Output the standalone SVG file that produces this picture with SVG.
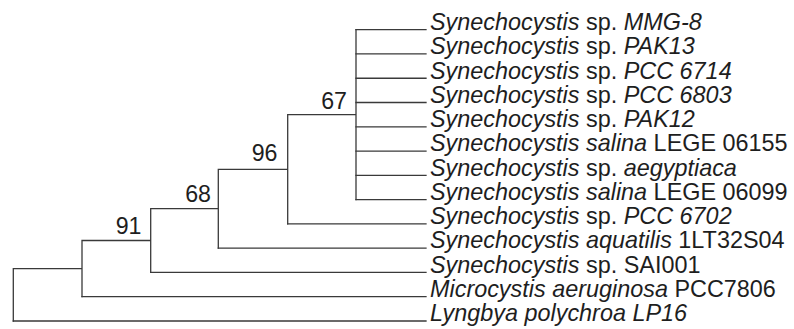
<svg xmlns="http://www.w3.org/2000/svg" width="794" height="329" viewBox="0 0 794 329">
<style>
.e{fill:none;stroke:#3a3a3a;stroke-width:1.3;stroke-linecap:square}
.t{font-family:"Liberation Sans",Arial,sans-serif;font-size:23.4px;fill:#1e1e1e}
.b{font-family:"Liberation Sans",Arial,sans-serif;font-size:23.2px;fill:#1e1e1e;text-anchor:end}
.i{font-style:italic}
</style>
<rect width="794" height="329" fill="#ffffff"/>
<g id="connectors">
<path class="e" d="M356,29.7V199.6 M287.7,114.65H356 M287.7,114.65V223.9 M218.3,169.3H287.7 M218.3,169.3V248.1 M150.7,208.7H218.3 M150.7,208.7V272.4 M82,240.5H150.7 M82,240.5V296.7 M13.3,268.6H82 M13.3,268.6V321"/>
<path class="e" d="M356,29.7H426 M356,53.97H426 M356,78.24H426 M356,102.5H426 M356,126.8H426 M356,151.05H426 M356,175.3H426 M356,199.6H426 M287.7,223.9H426 M218.3,248.1H426 M150.7,272.4H426 M82,296.7H426 M13.3,321H426"/>
</g>
<g id="node-67"><text class="b" x="347" y="108.5">67</text></g>
<g id="node-96"><text class="b" x="277.5" y="160.5">96</text></g>
<g id="node-68"><text class="b" x="211" y="201.5">68</text></g>
<g id="node-91"><text class="b" x="141.5" y="233.5">91</text></g>
<g id="leaf-mmg8"><text class="t" x="430" y="30"><tspan class="i">Synechocystis</tspan> sp. <tspan class="i">MMG-8</tspan></text></g>
<g id="leaf-pak13"><text class="t" x="430" y="54.2"><tspan class="i">Synechocystis</tspan> sp. <tspan class="i">PAK13</tspan></text></g>
<g id="leaf-pcc6714"><text class="t" x="430" y="78.5"><tspan class="i">Synechocystis</tspan> sp. <tspan class="i">PCC 6714</tspan></text></g>
<g id="leaf-pcc6803"><text class="t" x="430" y="102.7"><tspan class="i">Synechocystis</tspan> sp. <tspan class="i">PCC 6803</tspan></text></g>
<g id="leaf-pak12"><text class="t" x="430" y="127"><tspan class="i">Synechocystis</tspan> sp. <tspan class="i">PAK12</tspan></text></g>
<g id="leaf-lege06155"><text class="t" x="430" y="151.2"><tspan class="i">Synechocystis salina</tspan> LEGE 06155</text></g>
<g id="leaf-aegyptiaca"><text class="t" x="430" y="175.5"><tspan class="i">Synechocystis</tspan> sp. <tspan class="i">aegyptiaca</tspan></text></g>
<g id="leaf-lege06099"><text class="t" x="430" y="199.8"><tspan class="i">Synechocystis salina</tspan> LEGE 06099</text></g>
<g id="leaf-pcc6702"><text class="t" x="430" y="224.1"><tspan class="i">Synechocystis</tspan> sp. <tspan class="i">PCC 6702</tspan></text></g>
<g id="leaf-aquatilis"><text class="t" x="430" y="248.3"><tspan class="i">Synechocystis aquatilis</tspan> 1LT32S04</text></g>
<g id="leaf-sai001"><text class="t" x="430" y="272.6"><tspan class="i">Synechocystis</tspan> sp. SAI001</text></g>
<g id="leaf-microcystis"><text class="t" x="430" y="296.9"><tspan class="i">Microcystis aeruginosa</tspan> PCC7806</text></g>
<g id="leaf-lyngbya"><text class="t" x="430" y="321.2"><tspan class="i">Lyngbya polychroa LP16</tspan></text></g>
</svg>
